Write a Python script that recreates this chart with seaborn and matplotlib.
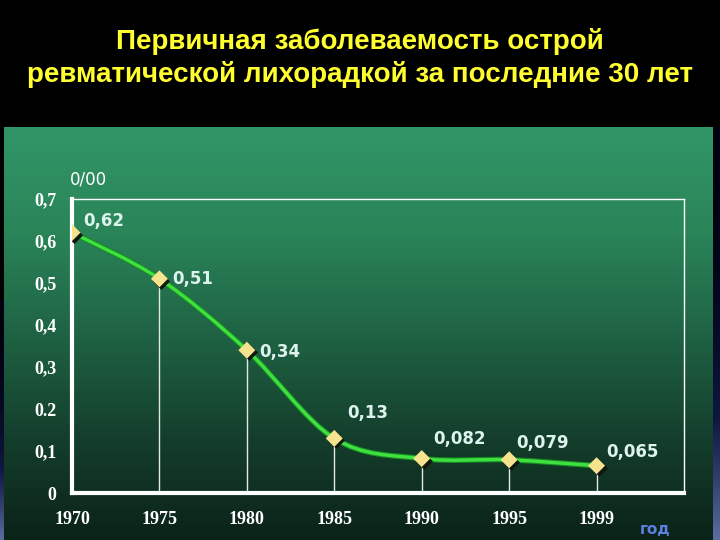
''' Первичная заболеваемость острой ревматической лихорадкой '''

import matplotlib
matplotlib.use("Agg")
import matplotlib.pyplot as plt
import matplotlib.patheffects as pe
import matplotlib.transforms as mtransforms
from matplotlib.colors import LinearSegmentedColormap
from matplotlib.path import Path
from matplotlib.patches import PathPatch
import numpy as np
import seaborn as sns

# данные
years = ["1970", "1975", "1980", "1985", "1990", "1995", "1999"]
incidence = [0.62, 0.51, 0.34, 0.13, 0.082, 0.079, 0.065]
value_labels = ["0,62", "0,51", "0,34", "0,13", "0,082", "0,079", "0,065"]
y_ticks = [0, 0.1, 0.2, 0.3, 0.4, 0.5, 0.6, 0.7]
y_tick_labels = ["0", "0,1", "0.2", "0,3", "0,4", "0,5", "0,6", "0,7"]

# смещения подписей (в точках)
label_offsets = [(8, 8), (9, 0), (9, -1), (9, 18), (8, 14), (5, 12), (7, 10)]


def smooth_path(xs, ys):
    ''' Кривая Безье через точки (сглаживание как в Excel) '''
    pts = np.column_stack([xs, ys])
    verts = [pts[0]]
    codes = [Path.MOVETO]
    n = len(pts)
    for i in range(n - 1):
        p0 = pts[i - 1] if i > 0 else pts[i]
        p1 = pts[i]
        p2 = pts[i + 1]
        p3 = pts[i + 2] if i + 2 < n else pts[i + 1]
        c1 = p1 + (p2 - p0) / 6.0
        c2 = p2 - (p3 - p1) / 6.0
        verts += [c1, c2, p2]
        codes += [Path.CURVE4] * 3
    return Path(verts, codes)


sns.set_style("dark")
plt.rcParams["font.family"] = ["DejaVu Sans"]

fig = plt.figure(figsize=(7.2, 5.4), dpi=100, facecolor="black")

# фон: зелёная панель с градиентом
bg = fig.add_axes([0, 0, 1, 1])
bg.set_xlim(0, 720)
bg.set_ylim(540, 0)
bg.axis("off")
green = LinearSegmentedColormap.from_list(
    "g", ["#319667", "#2A8559", "#1F6344", "#143F2C", "#0B2218"])
grad = np.linspace(0, 1, 256).reshape(-1, 1)
bg.imshow(grad, cmap=green, extent=[4, 713, 540, 127], aspect="auto")
blue = LinearSegmentedColormap.from_list("b", ["#000010", "#101840", "#5A6E9E"])
bg.imshow(np.linspace(0, 1, 256).reshape(-1, 1) ** 2, cmap=blue,
          extent=[713, 720, 540, 127], aspect="auto")
bg.imshow(np.linspace(0, 1, 256).reshape(-1, 1) ** 2, cmap=blue,
          extent=[0, 4, 540, 300], aspect="auto")

title_lines = ["Первичная заболеваемость острой",
               "ревматической лихорадкой за последние 30 лет"]
for line, ypx in zip(title_lines, [42, 75]):
    fig.text(0.5, 1 - ypx / 540, line, ha="center", va="center", color="#FFFF30",
             fontsize=20, fontweight="bold", family="Liberation Sans")

ax = fig.add_axes([72 / 720, 1 - 493 / 540, 612 / 720, 294 / 540])
ax.set_facecolor("none")
xpos = np.arange(len(years))

ax.set_xlim(0, 7)
ax.set_ylim(0, 0.7)

# вертикальные линии к оси
ax.vlines(xpos[1:], 0, incidence[1:], color="#E6E6E6", lw=1, zorder=2)

# сглаженная линия
patch = PathPatch(smooth_path(xpos, incidence), fill=False, edgecolor="#40E040",
                  lw=2.4, zorder=3, capstyle="round")
patch.set_path_effects([pe.Stroke(linewidth=4, foreground="#168C22"), pe.Normal()])
ax.add_patch(patch)

# маркеры с тенью
shadow = mtransforms.offset_copy(ax.transData, fig=fig, x=2, y=-2, units="dots")
ax.scatter(xpos, incidence, marker="D", s=75, color="#101810", transform=shadow,
           zorder=4, linewidths=0)
sns.scatterplot(x=xpos, y=incidence, marker="D", s=75, color="#F6E38E",
                edgecolor="none", ax=ax, zorder=5)

for x, y, txt, off in zip(xpos, incidence, value_labels, label_offsets):
    ax.annotate(txt, (x, y), xytext=off, textcoords="offset points",
                ha="left", va="center", color="#DDF3EE", fontsize=12,
                fontweight="bold", zorder=6)

# оси
for side in ["left", "bottom"]:
    ax.spines[side].set_color("white")
    ax.spines[side].set_linewidth(3)
for side in ["top", "right"]:
    ax.spines[side].set_visible(True)
    ax.spines[side].set_color("white")
    ax.spines[side].set_linewidth(1)
ax.grid(False)

ax.set_xticks(list(xpos) + [7])
ax.set_xticklabels(years + [""])
ax.set_yticks(y_ticks)
ax.set_yticklabels(y_tick_labels)
ax.tick_params(axis="both", colors="white", length=4, width=2, direction="out")
ax.tick_params(axis="x", pad=9)
ax.tick_params(axis="y", pad=7)
for lab in ax.get_xticklabels() + ax.get_yticklabels():
    lab.set_family("Liberation Serif")
    lab.set_fontweight("bold")
    lab.set_fontsize(13)
    lab.set_color("white")
ax.set_xlabel("")
ax.set_ylabel("")

fig.text(70 / 720, 1 - 180 / 540, "0/00", ha="left", va="center", color="white", fontsize=12)
fig.text(640 / 720, 1 - 530 / 540, "год", ha="left", va="center", color="#5B80E0",
         fontsize=11, fontweight="bold")

fig.savefig("out.png", dpi=100, facecolor="black")
